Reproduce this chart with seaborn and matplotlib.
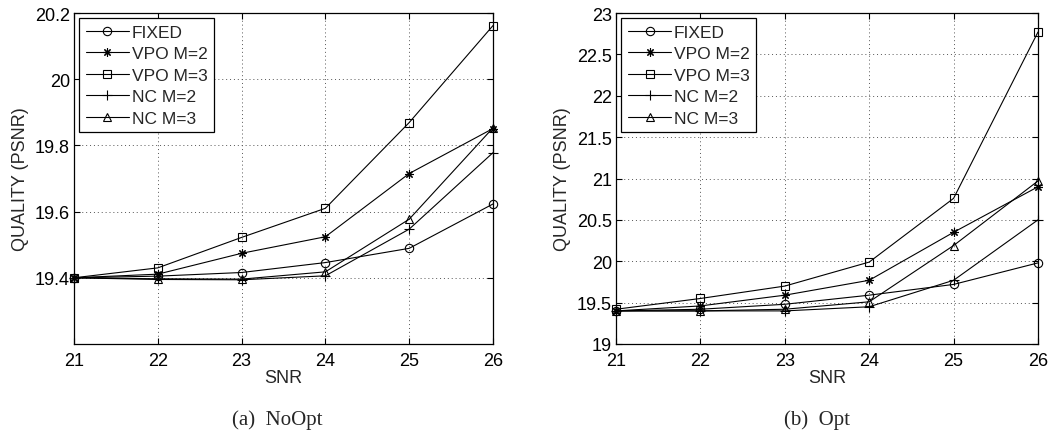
import matplotlib
matplotlib.use("Agg")
import matplotlib.pyplot as plt
import seaborn as sns
import pandas as pd

snr = [21, 22, 23, 24, 25, 26]
series_names = ["FIXED", "VPO M=2", "VPO M=3", "NC M=2", "NC M=3"]

noopt_fixed = [19.400, 19.405, 19.416, 19.446, 19.489, 19.623]
noopt_vpo2 = [19.400, 19.411, 19.474, 19.524, 19.715, 19.851]
noopt_vpo3 = [19.400, 19.430, 19.522, 19.610, 19.869, 20.162]
noopt_nc2 = [19.400, 19.395, 19.394, 19.406, 19.547, 19.778]
noopt_nc3 = [19.400, 19.397, 19.396, 19.418, 19.577, 19.853]

opt_fixed = [19.40, 19.42, 19.48, 19.59, 19.72, 19.98]
opt_vpo2 = [19.40, 19.46, 19.59, 19.77, 20.35, 20.90]
opt_vpo3 = [19.42, 19.55, 19.70, 19.99, 20.76, 22.77]
opt_nc2 = [19.40, 19.40, 19.40, 19.45, 19.77, 20.50]
opt_nc3 = [19.40, 19.40, 19.42, 19.51, 20.19, 20.97]

noopt_yticks = [19.4, 19.6, 19.8, 20.0, 20.2]
noopt_yticklabels = ["19.4", "19.6", "19.8", "20", "20.2"]
opt_yticks = [19, 19.5, 20, 20.5, 21, 21.5, 22, 22.5, 23]
opt_yticklabels = ["19", "19.5", "20", "20.5", "21", "21.5", "22", "22.5", "23"]

captions = ["(a)  NoOpt", "(b)  Opt"]

sns.set_theme(style="white")
plt.rcParams["font.family"] = ["Liberation Sans", "DejaVu Sans"]

markers = ["o", (8, 2, 0), "s", "+", "^"]
msizes = [6, 6, 5.5, 7.5, 6]

fig = plt.figure(figsize=(10.57, 4.35), dpi=100)
ax1 = fig.add_axes([0.0700, 0.2069, 0.3964, 0.7609])
ax2 = fig.add_axes([0.5828, 0.2069, 0.3992, 0.7609])

panels = [
    (ax1, [noopt_fixed, noopt_vpo2, noopt_vpo3, noopt_nc2, noopt_nc3],
     (19.2, 20.2), noopt_yticks, noopt_yticklabels, captions[0], 277),
    (ax2, [opt_fixed, opt_vpo2, opt_vpo3, opt_nc2, opt_nc3],
     (19, 23), opt_yticks, opt_yticklabels, captions[1], 817),
]

for ax, data, ylim, yt, ytl, cap, capx in panels:
    for name, vals, mk, ms in zip(series_names, data, markers, msizes):
        df = pd.DataFrame({"SNR": snr, "Q": vals})
        sns.lineplot(data=df, x="SNR", y="Q", ax=ax, color="black",
                     linewidth=0.8, marker=mk, markersize=ms,
                     markerfacecolor="none", markeredgecolor="black",
                     markeredgewidth=0.8, label=name, clip_on=False)
    ax.set_xlim(21, 26)
    ax.set_ylim(*ylim)
    ax.set_xticks(snr)
    ax.set_xticklabels([str(s) for s in snr])
    ax.set_yticks(yt)
    ax.set_yticklabels(ytl)
    ax.grid(True, linestyle=(0, (1, 3)), color="#555555", linewidth=0.7)
    ax.tick_params(direction="in", length=4, width=0.8, top=True, right=True,
                   bottom=True, left=True, labelsize=13, colors="black")
    ax.tick_params(axis="x", pad=6)
    ax.tick_params(axis="y", pad=3)
    for sp in ax.spines.values():
        sp.set_visible(True)
        sp.set_color("black")
        sp.set_linewidth(0.9)
    ax.set_xlabel("SNR", fontsize=13, labelpad=0)
    ax.set_ylabel("QUALITY (PSNR)", fontsize=13, labelpad=4)
    leg = ax.legend(loc="upper left", fontsize=12.5, frameon=True, fancybox=False,
                    edgecolor="black", framealpha=1, handlelength=2.5,
                    handletextpad=0.15, labelspacing=0.36, borderpad=0.38,
                    borderaxespad=0.3)
    leg.get_frame().set_linewidth(0.9)
    fig.text(capx / 1057, 1 - 420 / 435, cap, ha="center", va="center",
             fontsize=15, family=["Liberation Serif", "DejaVu Serif"])

fig.savefig("out.png", dpi=100)
